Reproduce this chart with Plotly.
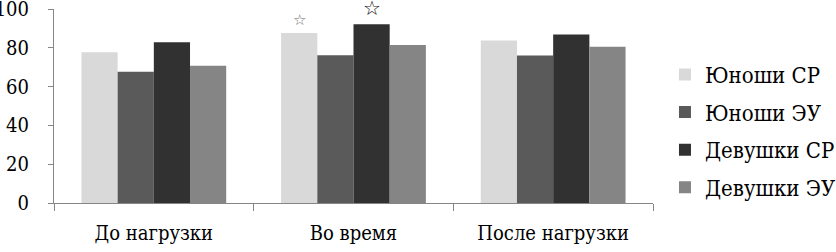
import plotly.graph_objects as go

categories = ["До нагрузки", "Во время", "После нагрузки"]
series_names = ["Юноши СР", "Юноши ЭУ", "Девушки СР", "Девушки ЭУ"]
yunoshi_sr = [77.7, 87.6, 83.8]
yunoshi_eu = [67.7, 76.2, 76.0]
devushki_sr = [82.9, 92.2, 86.9]
devushki_eu = [70.8, 81.4, 80.6]
values = [yunoshi_sr, yunoshi_eu, devushki_sr, devushki_eu]
colors = ["#d9d9d9", "#5a5a5a", "#313131", "#858585"]
y_ticks = [0, 20, 40, 60, 80, 100]
# significance marks: (category index, series index)
stars = [(1, 0), (1, 2)]

W, H = 836, 252
ML, MR, MT, MB = 54, 183, 9, 49
BARGAP = 0.275
FONT = "DejaVu Serif Condensed, DejaVu Serif, serif"
FS = 20

fig = go.Figure()
for i, (name, vals) in enumerate(zip(series_names, values)):
    fig.add_trace(go.Bar(
        x=categories, y=vals, name=name,
        marker=dict(color=colors[i], line=dict(width=0)),
        legendgroup=name,
    ))

plot_w = W - ML - MR
cat_w = plot_w / len(categories)
bar_w = cat_w * (1 - BARGAP) / len(series_names)
star_styles = [dict(size=15, color="#707070"), dict(size=20, color="#111111")]
for k, (ci, si) in enumerate(stars):
    offset = (si - (len(series_names) - 1) / 2) * bar_w
    st = star_styles[k]
    fig.add_annotation(
        x=categories[ci], y=values[si][ci], xref="x", yref="y",
        text="☆", showarrow=False, yanchor="bottom",
        xshift=offset, yshift=2,
        font=dict(family="DejaVu Sans", size=st["size"], color=st["color"]),
    )

fig.update_layout(
    width=W, height=H,
    margin=dict(l=ML, r=MR, t=MT, b=MB, pad=0, autoexpand=False),
    paper_bgcolor="white", plot_bgcolor="white",
    barmode="group", bargap=BARGAP, bargroupgap=0,
    font=dict(family=FONT, size=FS, color="black"),
    legend=dict(
        x=1.02, xanchor="left", y=0.37, yanchor="middle",
        font=dict(family=FONT, size=22, color="black"),
        tracegroupgap=6, itemwidth=30,
    ),
    showlegend=True,
)
fig.update_xaxes(
    type="category", showline=True, linecolor="#868686", linewidth=1,
    ticks="outside", tickson="boundaries", ticklen=7, tickcolor="#868686",
    showgrid=False, ticklabelstandoff=12, automargin=False,
    tickfont=dict(family=FONT, size=FS, color="black"),
)
fig.update_yaxes(
    range=[0, 100], tickvals=y_ticks, ticktext=[str(v) for v in y_ticks],
    showline=True, linecolor="#868686", ticklabeloverflow="allow",
    linewidth=1, ticks="outside", ticklen=5, tickcolor="#868686",
    showgrid=False, zeroline=False, ticklabelstandoff=15, automargin=False,
    tickfont=dict(family=FONT, size=FS, color="black"),
)

fig.write_html("out.html", post_script="document.body.style.margin='0';",
               config={"displayModeBar": False})
